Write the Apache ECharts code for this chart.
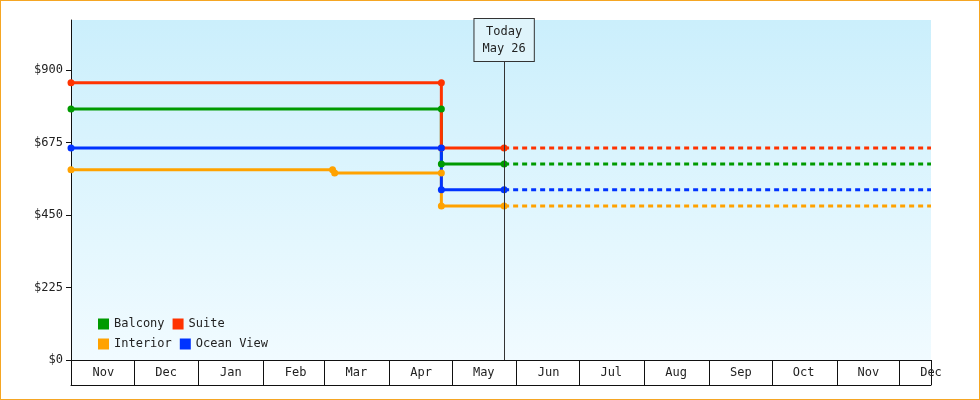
<!DOCTYPE html>
<html>
<head>
<meta charset="utf-8">
<script src="https://cdn.jsdelivr.net/npm/echarts@6/dist/echarts.min.js"></script>
<style>
html,body{margin:0;padding:0;background:#fff;}
#chart{width:978px;height:398px;border:1px solid #f5a623;}
</style>
</head>
<body>
<div id="chart"></div>
<script>
var startDate = '2023-11-01';
var endDate = '2024-12-16';
var dropDate = '2024-04-26';
var todayDate = '2024-05-26';
var interiorDropDate = '2024-03-05';

var names = ['Balcony', 'Suite', 'Interior', 'Ocean View'];
var colors = ['#009a00', '#ff3300', '#ffa200', '#0033ff'];
// price before drop, after drop
var balcony = [779, 608];
var suite = [860, 658];
var oceanView = [658, 528];
var interior = [590, 580, 478];
var yTicks = [0, 225, 450, 675, 900];
var monthNames = ['Jan','Feb','Mar','Apr','May','Jun','Jul','Aug','Sep','Oct','Nov','Dec'];

var DAY = 86400000;
var half = 15.5 * DAY;
var t0 = +new Date(startDate + 'T00:00:00');
var t1 = +new Date(endDate + 'T00:00:00');
var lastMonth = +new Date('2024-12-01T00:00:00');

function stepData(p) {
	return [[startDate, p[0]], [dropDate, p[0]], [dropDate, p[1]], [todayDate, p[1]]];
}
var solid = {
	'Balcony': stepData(balcony),
	'Suite': stepData(suite),
	'Ocean View': stepData(oceanView),
	'Interior': [[startDate, interior[0]], [interiorDropDate, interior[0]], ['2024-03-06', interior[1]],
		[dropDate, interior[1]], [dropDate, interior[2]], [todayDate, interior[2]]]
};
var future = {
	'Balcony': balcony[1], 'Suite': suite[1], 'Ocean View': oceanView[1], 'Interior': interior[2]
};

var series = [];
names.forEach(function(n, i) {
	series.push({
		name: n, type: 'line', data: solid[n], color: colors[i],
		symbol: 'circle', symbolSize: 7, lineStyle: {width: 3}, z: 3
	});
	series.push({
		name: n, type: 'line', data: [[todayDate, future[n]], [endDate, future[n]]], color: colors[i],
		symbol: 'none', lineStyle: {width: 3, type: [5, 4]}, z: 2
	});
});
series[0].markLine = {
	symbol: 'none', silent: true,
	lineStyle: {color: '#333', width: 1, type: 'solid'},
	label: {
		show: true, position: 'end', formatter: 'Today\nMay 26', distance: -41,
		backgroundColor: '#dff4fb', borderColor: '#333', borderWidth: 1,
		padding: [4, 8], color: '#222', fontFamily: 'DejaVu Sans Mono', fontSize: 12, lineHeight: 17
	},
	data: [{xAxis: todayDate}]
};

var font = 'DejaVu Sans Mono';
var Chart = echarts.init(document.getElementById('chart'));
Chart.setOption({
	animation: false,
	backgroundColor: '#fff',
	grid: {left: 70, right: 48, top: 19, bottom: 39, show: true, borderWidth: 0,
		backgroundColor: new echarts.graphic.LinearGradient(0, 0, 0, 1, [
			{offset: 0, color: '#cbeffc'}, {offset: 1, color: '#f1fbff'}])},
	legend: {
		data: names, left: 92, top: 312, width: 190, itemWidth: 11, itemHeight: 11,
		icon: 'rect', itemGap: 8, textStyle: {fontFamily: font, fontSize: 12, color: '#222'}
	},
	xAxis: [{
		type: 'time', min: t0, max: t1, splitNumber: 14,
		axisLine: {lineStyle: {color: '#111'}},
		axisTick: {show: true, length: 25, lineStyle: {color: '#111'}},
		minorTick: {show: false},
		axisLabel: {show: false}, splitLine: {show: false}
	}, {
		type: 'time', min: t0 - half, max: lastMonth, splitNumber: 14, position: 'bottom',
		axisLine: {show: false}, axisTick: {show: false}, splitLine: {show: false},
		axisLabel: {
			show: true, margin: 7, showMinLabel: false, showMaxLabel: true,
			fontFamily: font, fontSize: 12, color: '#222',
			formatter: function(v) { return monthNames[new Date(v).getMonth()]; }
		}
	}, {
		type: 'time', min: t0, max: t1, position: 'bottom', offset: 25,
		axisLine: {show: true, lineStyle: {color: '#111'}},
		axisTick: {show: false}, axisLabel: {show: false}, splitLine: {show: false}
	}],
	yAxis: {
		type: 'value', min: 0, max: 1055, interval: 225,
		axisLine: {show: true, lineStyle: {color: '#111'}},
		axisTick: {show: true, length: 5, lineStyle: {color: '#111'}},
		splitLine: {show: false},
		axisLabel: {
			fontFamily: font, fontSize: 12, color: '#222', showMaxLabel: false,
			formatter: function(v) { return yTicks.indexOf(v) >= 0 ? '$' + v : ''; }
		}
	},
	series: series
});
</script>
</body>
</html>
